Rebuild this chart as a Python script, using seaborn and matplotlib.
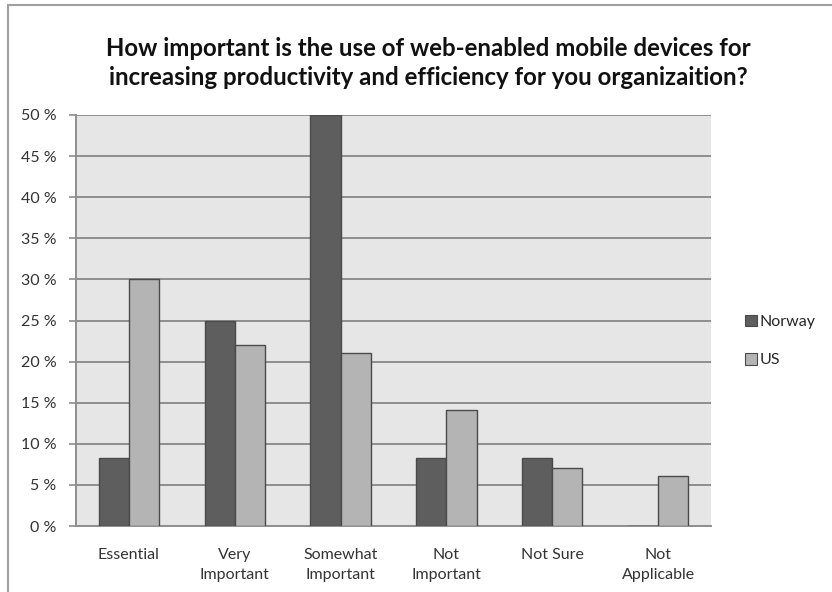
import matplotlib
matplotlib.use("Agg")
import matplotlib.pyplot as plt
import matplotlib.patches as mpatches
import seaborn as sns
import pandas as pd

categories = ["Essential", "Very\nImportant", "Somewhat\nImportant",
              "Not\nImportant", "Not Sure", "Not\nApplicable"]
norway = [8.33, 25.0, 50.0, 8.33, 8.33, 0.0]
us = [30.0, 22.0, 21.1, 14.1, 7.0, 6.1]
series_names = ["Norway", "US"]
y_ticks = list(range(0, 51, 5))

df = pd.DataFrame({
    "category": categories * 2,
    "value": norway + us,
    "country": [series_names[0]] * len(categories) + [series_names[1]] * len(categories),
})

sns.set_theme(style="white")
plt.rcParams["font.family"] = ["Lato", "DejaVu Sans"]

fig = plt.figure(figsize=(8.32, 5.92), dpi=100)
ax = fig.add_axes([76 / 832, 1 - 526 / 592, (711 - 76) / 832, (526 - 115) / 592])

palette = {"Norway": "#5e5e5e", "US": "#b4b4b4"}
sns.barplot(data=df, x="category", y="value", hue="country", palette=palette,
            order=categories, hue_order=series_names, width=0.57,
            edgecolor="#4a4a4a", linewidth=1.0, saturation=1, ax=ax, zorder=3)

ax.set_facecolor("#e6e6e6")
ax.set_ylim(0, 50)
ax.set_xlim(-0.5, len(categories) - 0.5)
ax.set_yticks(y_ticks)
ax.set_yticklabels([f"{v} %" for v in y_ticks], fontsize=11.5, color="#333333")
ax.yaxis.grid(True, color="#8e8e8e", linewidth=1.4, zorder=0)
ax.set_axisbelow(True)

# category ticks sit at the boundaries between groups
ax.set_xticks([i - 0.5 for i in range(len(categories) + 1)], minor=False)
ax.set_xticklabels([""] * (len(categories) + 1))
ax.set_xticks(range(len(categories)), minor=True)
ax.set_xticklabels(categories, minor=True, fontsize=11.5, color="#333333", linespacing=1.5)
ax.tick_params(axis="x", which="minor", length=0, pad=16)
ax.tick_params(axis="x", which="major", length=5, width=1.2, color="#8e8e8e", direction="out")
ax.tick_params(axis="y", length=5, width=1.2, color="#8e8e8e", direction="out", pad=9, left=True)
for lbl in ax.get_xticklabels(minor=True):
    lbl.set_verticalalignment("top")

ax.set_xlabel("")
ax.set_ylabel("")
for side in ["top", "right"]:
    ax.spines[side].set_visible(False)
for side in ["left", "bottom"]:
    ax.spines[side].set_color("#8e8e8e")
    ax.spines[side].set_linewidth(1.4)

handles = [mpatches.Patch(facecolor=palette[n], edgecolor="#4a4a4a", linewidth=0.8, label=n)
           for n in series_names]
ax.legend(handles=handles, loc="center left", bbox_to_anchor=(740 / 832, 1 - 341 / 592),
          bbox_transform=fig.transFigure, frameon=False, fontsize=11.5,
          handlelength=0.75, handleheight=0.75, handletextpad=0.2, labelspacing=1.5,
          borderaxespad=0, borderpad=0.3)

fig.text(428 / 832, 1 - 63 / 592,
         "How important is the use of web-enabled mobile devices for\n"
         "increasing productivity and efficiency for you organizaition?",
         ha="center", va="center", fontsize=17.3, fontweight="bold", color="#111111",
         linespacing=1.3)

# outer chart frame
fig.patches.append(mpatches.Rectangle((8 / 832, -0.05), 1.0, 1 - 5 / 592 + 0.05,
                                      transform=fig.transFigure, fill=False,
                                      edgecolor="#a0a0a0", linewidth=1.5))

fig.savefig("out.png", dpi=100)
